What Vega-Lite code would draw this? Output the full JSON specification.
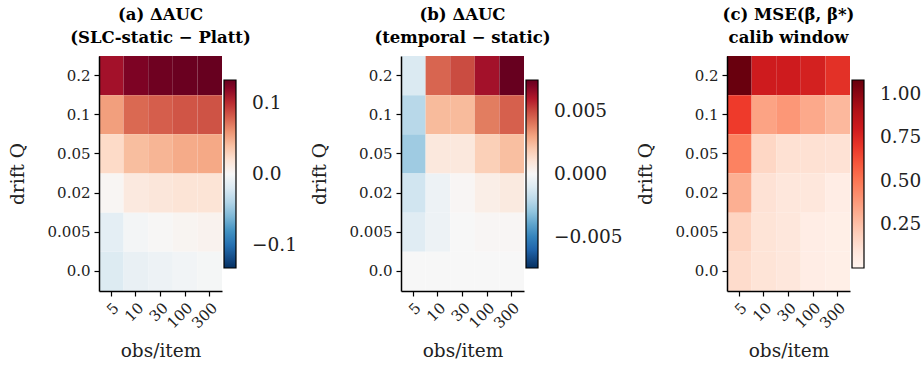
{
  "$schema": "https://vega.github.io/schema/vega-lite/v6.json",
  "background": "white",
  "padding": {"left": 8, "top": 6, "right": 5, "bottom": 5},
  "datasets": {
    "cells": [
      {"p":"a","q":"0.2","n":"5","v":0.111},{"p":"a","q":"0.2","n":"10","v":0.124},{"p":"a","q":"0.2","n":"30","v":0.129},{"p":"a","q":"0.2","n":"100","v":0.131},{"p":"a","q":"0.2","n":"300","v":0.132},
      {"p":"a","q":"0.1","n":"5","v":0.055},{"p":"a","q":"0.1","n":"10","v":0.076},{"p":"a","q":"0.1","n":"30","v":0.080},{"p":"a","q":"0.1","n":"100","v":0.084},{"p":"a","q":"0.1","n":"300","v":0.085},
      {"p":"a","q":"0.05","n":"5","v":0.026},{"p":"a","q":"0.05","n":"10","v":0.041},{"p":"a","q":"0.05","n":"30","v":0.045},{"p":"a","q":"0.05","n":"100","v":0.050},{"p":"a","q":"0.05","n":"300","v":0.051},
      {"p":"a","q":"0.02","n":"5","v":0.002},{"p":"a","q":"0.02","n":"10","v":0.013},{"p":"a","q":"0.02","n":"30","v":0.016},{"p":"a","q":"0.02","n":"100","v":0.018},{"p":"a","q":"0.02","n":"300","v":0.018},
      {"p":"a","q":"0.005","n":"5","v":-0.013},{"p":"a","q":"0.005","n":"10","v":-0.003},{"p":"a","q":"0.005","n":"30","v":0.001},{"p":"a","q":"0.005","n":"100","v":0.003},{"p":"a","q":"0.005","n":"300","v":0.005},
      {"p":"a","q":"0.0","n":"5","v":-0.018},{"p":"a","q":"0.0","n":"10","v":-0.010},{"p":"a","q":"0.0","n":"30","v":-0.007},{"p":"a","q":"0.0","n":"100","v":-0.004},{"p":"a","q":"0.0","n":"300","v":-0.002},

      {"p":"b","q":"0.2","n":"5","v":-0.0011},{"p":"b","q":"0.2","n":"10","v":0.0044},{"p":"b","q":"0.2","n":"30","v":0.0050},{"p":"b","q":"0.2","n":"100","v":0.0063},{"p":"b","q":"0.2","n":"300","v":0.0075},
      {"p":"b","q":"0.1","n":"5","v":-0.0021},{"p":"b","q":"0.1","n":"10","v":0.0024},{"p":"b","q":"0.1","n":"30","v":0.0024},{"p":"b","q":"0.1","n":"100","v":0.0039},{"p":"b","q":"0.1","n":"300","v":0.0045},
      {"p":"b","q":"0.05","n":"5","v":-0.0027},{"p":"b","q":"0.05","n":"10","v":0.0008},{"p":"b","q":"0.05","n":"30","v":0.0008},{"p":"b","q":"0.05","n":"100","v":0.0018},{"p":"b","q":"0.05","n":"300","v":0.0023},
      {"p":"b","q":"0.02","n":"5","v":-0.0015},{"p":"b","q":"0.02","n":"10","v":-0.0004},{"p":"b","q":"0.02","n":"30","v":0.0001},{"p":"b","q":"0.02","n":"100","v":0.0005},{"p":"b","q":"0.02","n":"300","v":0.0007},
      {"p":"b","q":"0.005","n":"5","v":-0.0009},{"p":"b","q":"0.005","n":"10","v":-0.0004},{"p":"b","q":"0.005","n":"30","v":0.0},{"p":"b","q":"0.005","n":"100","v":0.0001},{"p":"b","q":"0.005","n":"300","v":0.0001},
      {"p":"b","q":"0.0","n":"5","v":0.0},{"p":"b","q":"0.0","n":"10","v":0.0},{"p":"b","q":"0.0","n":"30","v":0.0},{"p":"b","q":"0.0","n":"100","v":0.0},{"p":"b","q":"0.0","n":"300","v":0.0},

      {"p":"c","q":"0.2","n":"5","v":1.075},{"p":"c","q":"0.2","n":"10","v":0.80},{"p":"c","q":"0.2","n":"30","v":0.80},{"p":"c","q":"0.2","n":"100","v":0.78},{"p":"c","q":"0.2","n":"300","v":0.72},
      {"p":"c","q":"0.1","n":"5","v":0.68},{"p":"c","q":"0.1","n":"10","v":0.35},{"p":"c","q":"0.1","n":"30","v":0.39},{"p":"c","q":"0.1","n":"100","v":0.33},{"p":"c","q":"0.1","n":"300","v":0.28},
      {"p":"c","q":"0.05","n":"5","v":0.46},{"p":"c","q":"0.05","n":"10","v":0.17},{"p":"c","q":"0.05","n":"30","v":0.13},{"p":"c","q":"0.05","n":"100","v":0.13},{"p":"c","q":"0.05","n":"300","v":0.12},
      {"p":"c","q":"0.02","n":"5","v":0.31},{"p":"c","q":"0.02","n":"10","v":0.12},{"p":"c","q":"0.02","n":"30","v":0.09},{"p":"c","q":"0.02","n":"100","v":0.09},{"p":"c","q":"0.02","n":"300","v":0.05},
      {"p":"c","q":"0.005","n":"5","v":0.18},{"p":"c","q":"0.005","n":"10","v":0.11},{"p":"c","q":"0.005","n":"30","v":0.09},{"p":"c","q":"0.005","n":"100","v":0.05},{"p":"c","q":"0.005","n":"300","v":0.04},
      {"p":"c","q":"0.0","n":"5","v":0.15},{"p":"c","q":"0.0","n":"10","v":0.11},{"p":"c","q":"0.0","n":"30","v":0.09},{"p":"c","q":"0.0","n":"100","v":0.05},{"p":"c","q":"0.0","n":"300","v":0.04}
    ]
  },
  "data": {"name": "cells"},
  "spacing": 13,
  "resolve": {"scale": {"color": "independent"}, "legend": {"color": "independent"}},
  "hconcat": [
    {
      "width": 123, "height": 235,
      "title": {"text": ["(a) ΔAUC", "(SLC-static − Platt)"]},
      "transform": [{"filter": "datum.p === 'a'"}],
      "mark": {"type": "rect"},
      "encoding": {
        "x": {"field": "n", "type": "ordinal", "sort": ["5","10","30","100","300"], "scale": {"paddingInner": 0, "paddingOuter": 0}, "axis": {"title": "obs/item", "labelAngle": -45}},
        "y": {"field": "q", "type": "ordinal", "sort": ["0.2","0.1","0.05","0.02","0.005","0.0"], "scale": {"paddingInner": 0, "paddingOuter": 0}, "axis": {"title": "drift Q"}},
        "color": {"field": "v", "type": "quantitative",
          "scale": {"domain": [-0.132,-0.1056,-0.0792,-0.0528,-0.0264,0,0.0264,0.0528,0.0792,0.1056,0.132],
                    "range": ["#053061","#2166ac","#4393c3","#92c5de","#d1e5f0","#f7f7f7","#fddbc7","#f4a582","#d6604d","#b2182b","#67001f"]},
          "legend": {"title": null, "values": [-0.1, 0, 0.1], "format": ".1f", "orient": "none", "legendX": 125, "legendY": 24, "direction": "vertical", "labelOffset": 16}}
      }
    },
    {
      "width": 123, "height": 235,
      "title": {"text": ["(b) ΔAUC", "(temporal − static)"]},
      "transform": [{"filter": "datum.p === 'b'"}],
      "mark": {"type": "rect"},
      "encoding": {
        "x": {"field": "n", "type": "ordinal", "sort": ["5","10","30","100","300"], "scale": {"paddingInner": 0, "paddingOuter": 0}, "axis": {"title": "obs/item", "labelAngle": -45}},
        "y": {"field": "q", "type": "ordinal", "sort": ["0.2","0.1","0.05","0.02","0.005","0.0"], "scale": {"paddingInner": 0, "paddingOuter": 0}, "axis": {"title": "drift Q"}},
        "color": {"field": "v", "type": "quantitative",
          "scale": {"domain": [-0.0075,-0.006,-0.0045,-0.003,-0.0015,0,0.0015,0.003,0.0045,0.006,0.0075],
                    "range": ["#053061","#2166ac","#4393c3","#92c5de","#d1e5f0","#f7f7f7","#fddbc7","#f4a582","#d6604d","#b2182b","#67001f"]},
          "legend": {"title": null, "values": [-0.005, 0, 0.005], "format": ".3f", "orient": "none", "legendX": 125, "legendY": 24, "direction": "vertical", "labelOffset": 16}}
      }
    },
    {
      "width": 123, "height": 235,
      "title": {"text": ["(c) MSE(β̂, β*)", "calib window"]},
      "transform": [{"filter": "datum.p === 'c'"}],
      "mark": {"type": "rect"},
      "encoding": {
        "x": {"field": "n", "type": "ordinal", "sort": ["5","10","30","100","300"], "scale": {"paddingInner": 0, "paddingOuter": 0}, "axis": {"title": "obs/item", "labelAngle": -45}},
        "y": {"field": "q", "type": "ordinal", "sort": ["0.2","0.1","0.05","0.02","0.005","0.0"], "scale": {"paddingInner": 0, "paddingOuter": 0}, "axis": {"title": "drift Q"}},
        "color": {"field": "v", "type": "quantitative",
          "scale": {"domain": [0.0,0.135,0.27,0.405,0.54,0.675,0.81,0.945,1.08],
                    "range": ["#fff5f0","#fee0d2","#fcbba1","#fc9272","#fb6a4a","#ef3b2c","#cb181d","#a50f15","#67000d"]},
          "legend": {"title": null, "values": [0.25, 0.5, 0.75, 1.0], "format": ".2f", "orient": "none", "legendX": 125, "legendY": 24, "direction": "vertical", "labelOffset": 16}}
      }
    }
  ],
  "config": {
    "font": "DejaVu Serif",
    "view": {"stroke": null},
    "title": {"font": "DejaVu Serif", "fontSize": 16.5, "fontWeight": "bold", "color": "#000", "lineHeight": 23, "offset": 10, "anchor": "middle", "frame": "group"},
    "axis": {
      "grid": false, "domainColor": "#000", "domainWidth": 1.5, "tickColor": "#000", "tickWidth": 1.2, "tickSize": 5,
      "labelFont": "DejaVu Serif", "labelFontSize": 15, "labelColor": "#222", "labelPadding": 4,
      "titleFont": "DejaVu Serif", "titleFontSize": 18.5, "titleFontWeight": "normal", "titleColor": "#222"
    },
    "axisX": {"titlePadding": 11},
    "axisY": {"titlePadding": 20},
    "legend": {
      "gradientLength": 188, "gradientThickness": 12, "gradientStrokeColor": "#000", "gradientStrokeWidth": 1.2,
      "labelFont": "DejaVu Serif", "labelFontSize": 18.5, "labelColor": "#222", "labelOverlap": false
    }
  }
}
